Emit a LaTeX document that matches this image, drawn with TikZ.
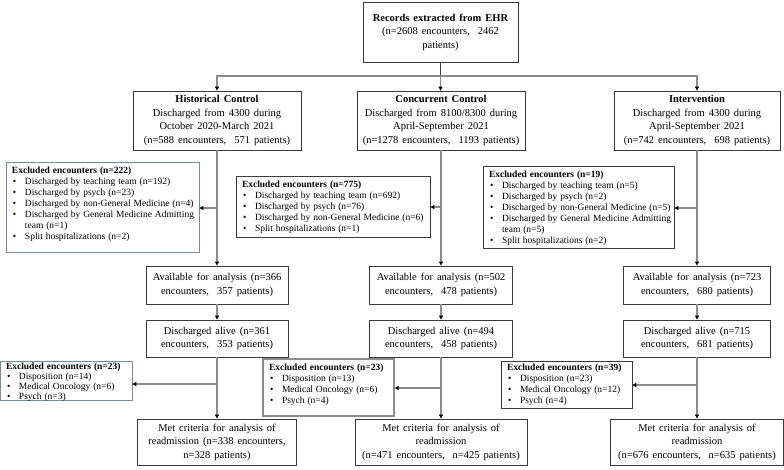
\documentclass[tikz,border=0pt]{standalone}
\usepackage{fontspec}
\setmainfont{Liberation Serif}
\usetikzlibrary{arrows.meta}
\definecolor{boxc}{HTML}{3A3A3A}
\definecolor{tealc}{HTML}{6E8F9C}
\definecolor{linec}{HTML}{8C8C8C}
\newcommand{\mainbox}[3]{\parbox[c][#2][c]{#1}{\centering\fontsize{10.5}{13.5}\selectfont\spaceskip=0.38em #3\par}}
\newcommand{\exbox}[4][4pt]{\parbox[c][#3][t]{#2}{\vspace*{#1}\fontsize{9.5}{11}\selectfont\spaceskip=0.3em\begin{tabular}{@{}l@{}}#4\end{tabular}\par}}
\newcommand{\bul}{\makebox[13pt][l]{\hspace{1pt}\textbullet}}
\newcommand{\cont}{\hspace*{13pt}}
\tikzset{
  mbox/.style={draw=boxc, line width=0.8pt, inner xsep=4pt, inner ysep=0pt, fill=white},
  xbox/.style={draw=boxc, line width=0.8pt, inner xsep=6pt, inner ysep=0pt, fill=white},
  conn/.style={draw=linec, line width=1.2pt, -{Triangle[length=4pt,width=4pt,color=black]}},
}
\begin{document}
\begin{tikzpicture}[x=1pt,y=-1pt]
\useasboundingbox (0,0) rectangle (784,469);

\node[mbox] (top) at (440.5,32) {\mainbox{147pt}{60pt}{\textbf{Records extracted from EHR}\\(n=2608 encounters, \ 2462\\patients)}};

\node[mbox] (hist) at (217,120.5) {\mainbox{160pt}{59pt}{\textbf{Historical Control}\\Discharged from 4300 during\\October 2020-March 2021\\(n=588 encounters, \ 571 patients)}};
\node[mbox] (conc) at (441,120.5) {\mainbox{160pt}{59pt}{\textbf{Concurrent Control}\\Discharged from 8100/8300 during\\April-September 2021\\(n=1278 encounters, \ 1193 patients)}};
\node[mbox] (intv) at (697,120.5) {\mainbox{158pt}{59pt}{\textbf{Intervention}\\Discharged from 4300 during\\April-September 2021\\(n=742 encounters, \ 698 patients)}};

\node[xbox, draw=tealc] (ex1) at (102.5,207) {\exbox{181pt}{90pt}{\textbf{Excluded encounters (n=222)}\\
\bul Discharged by teaching team (n=192)\\
\bul Discharged by psych (n=23)\\
\bul Discharged by non-General Medicine (n=4)\\
\bul Discharged by General Medicine Admitting\\
\cont team (n=1)\\
\bul Split hospitalizations (n=2)}};
\node[xbox] (ex2) at (333,206.5) {\exbox{182pt}{61pt}{\textbf{Excluded encounters (n=775)}\\
\bul Discharged by teaching team (n=692)\\
\bul Discharged by psych (n=76)\\
\bul Discharged by non-General Medicine (n=6)\\
\bul Split hospitalizations (n=1)}};
\node[xbox] (ex3) at (578.5,207) {\exbox{179pt}{82pt}{\textbf{Excluded encounters (n=19)}\\
\bul Discharged by teaching team (n=5)\\
\bul Discharged by psych (n=2)\\
\bul Discharged by non-General Medicine (n=5)\\
\bul Discharged by General Medicine Admitting\\
\cont team (n=5)\\
\bul Split hospitalizations (n=2)}};

\node[mbox] (av1) at (217,285) {\mainbox{134pt}{38pt}{Available for analysis (n=366\\encounters, \ 357 patients)}};
\node[mbox] (av2) at (441,285) {\mainbox{135pt}{38pt}{Available for analysis (n=502\\encounters, \ 478 patients)}};
\node[mbox] (av3) at (697,285) {\mainbox{139pt}{38pt}{Available for analysis (n=723\\encounters, \ 680 patients)}};

\node[mbox] (dis1) at (217,338.5) {\mainbox{134pt}{37pt}{Discharged alive (n=361\\encounters, \ 353 patients)}};
\node[mbox] (dis2) at (441,338.5) {\mainbox{135pt}{37pt}{Discharged alive (n=494\\encounters, \ 458 patients)}};
\node[mbox] (dis3) at (697,338.5) {\mainbox{139pt}{37pt}{Discharged alive (n=715\\encounters, \ 681 patients)}};

\node[xbox, draw=tealc] (lx1) at (66,380.5) {\exbox[1pt]{120pt}{39pt}{\textbf{Excluded encounters (n=23)}\\[-1pt]
\bul Disposition (n=14)\\[-1pt]
\bul Medical Oncology (n=6)\\[-1pt]
\bul Psych (n=3)}};
\node[xbox, draw=linec, line width=1.2pt] (lx2) at (328.5,387.5) {\exbox{119pt}{57pt}{\textbf{Excluded encounters (n=23)}\\
\bul Disposition (n=13)\\
\bul Medical Oncology (n=6)\\
\bul Psych (n=4)}};
\node[xbox] (lx3) at (566.5,384.5) {\exbox[2pt]{119pt}{47pt}{\textbf{Excluded encounters (n=39)}\\
\bul Disposition (n=23)\\
\bul Medical Oncology (n=12)\\
\bul Psych (n=4)}};

\node[mbox] (met1) at (217,442) {\mainbox{151pt}{46pt}{Met criteria for analysis of\\readmission (n=338 encounters,\\n=328 patients)}};
\node[mbox] (met2) at (441,442) {\mainbox{164pt}{46pt}{Met criteria for analysis of\\readmission\\(n=471 encounters, \ n=425 patients)}};
\node[mbox] (met3) at (697,442) {\mainbox{165pt}{46pt}{Met criteria for analysis of\\readmission\\(n=676 encounters, \ n=635 patients)}};

% split from top
\coordinate (sp) at (440.5,76);
\draw[draw=boxc, line width=0.8pt] (top.south) -- (sp);
\draw[conn] (sp) -| (hist.north);
\draw[conn] (sp) -| (intv.north);
\draw[conn] (sp) -- (sp |- conc.north);

% columns
\draw[conn] (hist.south) -- (av1.north);
\draw[conn] (conc.south) -- (av2.north);
\draw[conn] (intv.south) -- (av3.north);
\draw[conn] (av1.south) -- (dis1.north);
\draw[conn] (av2.south) -- (dis2.north);
\draw[conn] (av3.south) -- (dis3.north);
\draw[conn] (dis1.south) -- (met1.north);
\draw[conn] (dis2.south) -- (met2.north);
\draw[conn] (dis3.south) -- (met3.north);

% side exclusions
\coordinate (j1) at (217,208);
\coordinate (j2) at (441,207);
\coordinate (j3) at (697,208);
\coordinate (k1) at (217,384);
\coordinate (k2) at (441,388);
\coordinate (k3) at (697,385);
\draw[conn] (j1) -- (ex1.east |- j1);
\draw[conn] (j2) -- (ex2.east |- j2);
\draw[conn] (j3) -- (ex3.east |- j3);
\draw[conn] (k1) -- (lx1.east |- k1);
\draw[conn] (k2) -- (lx2.east |- k2);
\draw[conn] (k3) -- (lx3.east |- k3);
\end{tikzpicture}
\end{document}
